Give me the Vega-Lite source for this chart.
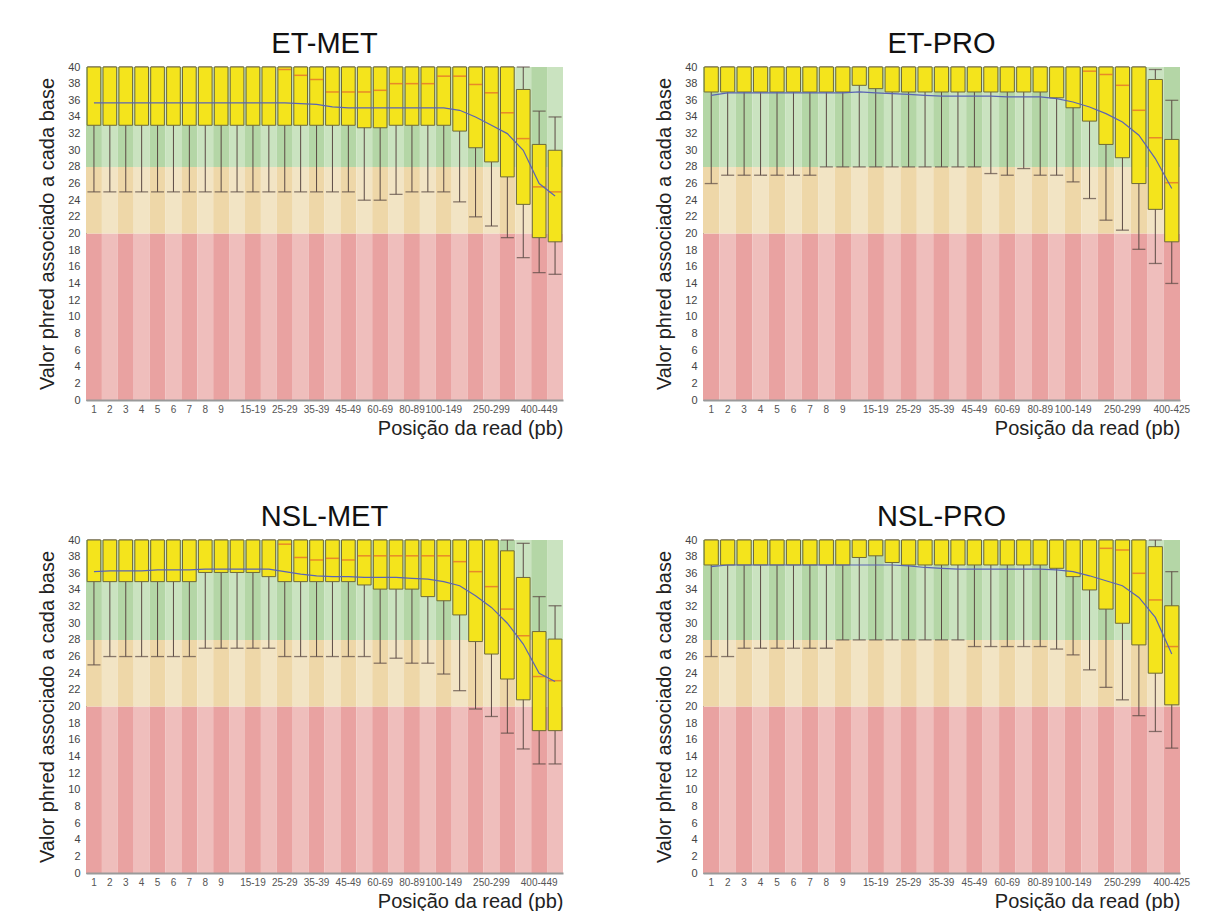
{
  "$schema": "https://vega.github.io/schema/vega-lite/v6.json",
  "padding": {"left": 37, "top": 30, "right": 10, "bottom": 0},
  "background": "white",
  "config": {"font": "Liberation Sans", "view": {"stroke": null}, "axisY": {"labelOverlap": false}},
  "data": {"values": [
    {"panel":"ET-MET","pos":"1","lo":25,"q1":33,"med":40,"q3":40,"hi":40,"mean":35.7},
    {"panel":"ET-MET","pos":"2","lo":25,"q1":33,"med":40,"q3":40,"hi":40,"mean":35.7},
    {"panel":"ET-MET","pos":"3","lo":25,"q1":33,"med":40,"q3":40,"hi":40,"mean":35.7},
    {"panel":"ET-MET","pos":"4","lo":25,"q1":33,"med":40,"q3":40,"hi":40,"mean":35.7},
    {"panel":"ET-MET","pos":"5","lo":25,"q1":33,"med":40,"q3":40,"hi":40,"mean":35.7},
    {"panel":"ET-MET","pos":"6","lo":25,"q1":33,"med":40,"q3":40,"hi":40,"mean":35.7},
    {"panel":"ET-MET","pos":"7","lo":25,"q1":33,"med":40,"q3":40,"hi":40,"mean":35.7},
    {"panel":"ET-MET","pos":"8","lo":25,"q1":33,"med":40,"q3":40,"hi":40,"mean":35.7},
    {"panel":"ET-MET","pos":"9","lo":25,"q1":33,"med":40,"q3":40,"hi":40,"mean":35.7},
    {"panel":"ET-MET","pos":"10-14","lo":25,"q1":33,"med":40,"q3":40,"hi":40,"mean":35.7},
    {"panel":"ET-MET","pos":"15-19","lo":25,"q1":33,"med":40,"q3":40,"hi":40,"mean":35.7},
    {"panel":"ET-MET","pos":"20-24","lo":25,"q1":33,"med":40,"q3":40,"hi":40,"mean":35.7},
    {"panel":"ET-MET","pos":"25-29","lo":25,"q1":33,"med":39.7,"q3":40,"hi":40,"mean":35.7},
    {"panel":"ET-MET","pos":"30-34","lo":25,"q1":33,"med":39,"q3":40,"hi":40,"mean":35.6},
    {"panel":"ET-MET","pos":"35-39","lo":25,"q1":33,"med":38.5,"q3":40,"hi":40,"mean":35.5},
    {"panel":"ET-MET","pos":"40-44","lo":25,"q1":33,"med":37,"q3":40,"hi":40,"mean":35.2},
    {"panel":"ET-MET","pos":"45-49","lo":25,"q1":33,"med":37,"q3":40,"hi":40,"mean":35.1},
    {"panel":"ET-MET","pos":"50-59","lo":24,"q1":32.7,"med":37,"q3":40,"hi":40,"mean":35.1},
    {"panel":"ET-MET","pos":"60-69","lo":24,"q1":32.7,"med":37.2,"q3":40,"hi":40,"mean":35.1},
    {"panel":"ET-MET","pos":"70-79","lo":24.7,"q1":33,"med":38,"q3":40,"hi":40,"mean":35.1},
    {"panel":"ET-MET","pos":"80-89","lo":25,"q1":33,"med":38,"q3":40,"hi":40,"mean":35.1},
    {"panel":"ET-MET","pos":"90-99","lo":25,"q1":33,"med":38,"q3":40,"hi":40,"mean":35.1},
    {"panel":"ET-MET","pos":"100-149","lo":25,"q1":33,"med":38.9,"q3":40,"hi":40,"mean":35.1},
    {"panel":"ET-MET","pos":"150-199","lo":23.8,"q1":32.3,"med":38.9,"q3":40,"hi":40,"mean":34.8},
    {"panel":"ET-MET","pos":"200-249","lo":22,"q1":30.3,"med":37.9,"q3":40,"hi":40,"mean":34},
    {"panel":"ET-MET","pos":"250-299","lo":20.9,"q1":28.6,"med":36.9,"q3":40,"hi":40,"mean":33},
    {"panel":"ET-MET","pos":"300-349","lo":19.5,"q1":26.8,"med":34.5,"q3":40,"hi":40,"mean":32},
    {"panel":"ET-MET","pos":"350-399","lo":17.1,"q1":23.5,"med":31.4,"q3":37.3,"hi":40,"mean":30},
    {"panel":"ET-MET","pos":"400-449","lo":15.3,"q1":19.5,"med":25.6,"q3":30.7,"hi":34.7,"mean":26},
    {"panel":"ET-MET","pos":"450-499","lo":15.1,"q1":19,"med":25,"q3":30,"hi":34,"mean":24.5},

    {"panel":"ET-PRO","pos":"1","lo":26,"q1":37,"med":40,"q3":40,"hi":40,"mean":36.6},
    {"panel":"ET-PRO","pos":"2","lo":27,"q1":37,"med":40,"q3":40,"hi":40,"mean":36.9},
    {"panel":"ET-PRO","pos":"3","lo":27,"q1":37,"med":40,"q3":40,"hi":40,"mean":36.9},
    {"panel":"ET-PRO","pos":"4","lo":27,"q1":37,"med":40,"q3":40,"hi":40,"mean":36.9},
    {"panel":"ET-PRO","pos":"5","lo":27,"q1":37,"med":40,"q3":40,"hi":40,"mean":36.9},
    {"panel":"ET-PRO","pos":"6","lo":27,"q1":37,"med":40,"q3":40,"hi":40,"mean":36.9},
    {"panel":"ET-PRO","pos":"7","lo":27,"q1":37,"med":40,"q3":40,"hi":40,"mean":36.9},
    {"panel":"ET-PRO","pos":"8","lo":28,"q1":37,"med":40,"q3":40,"hi":40,"mean":36.9},
    {"panel":"ET-PRO","pos":"9","lo":28,"q1":37,"med":40,"q3":40,"hi":40,"mean":36.9},
    {"panel":"ET-PRO","pos":"10-14","lo":28,"q1":37.8,"med":40,"q3":40,"hi":40,"mean":37},
    {"panel":"ET-PRO","pos":"15-19","lo":28,"q1":37.4,"med":40,"q3":40,"hi":40,"mean":36.9},
    {"panel":"ET-PRO","pos":"20-24","lo":28,"q1":37,"med":40,"q3":40,"hi":40,"mean":36.8},
    {"panel":"ET-PRO","pos":"25-29","lo":28,"q1":37,"med":40,"q3":40,"hi":40,"mean":36.7},
    {"panel":"ET-PRO","pos":"30-34","lo":28,"q1":37,"med":40,"q3":40,"hi":40,"mean":36.6},
    {"panel":"ET-PRO","pos":"35-39","lo":28,"q1":37,"med":40,"q3":40,"hi":40,"mean":36.5},
    {"panel":"ET-PRO","pos":"40-44","lo":28,"q1":37,"med":40,"q3":40,"hi":40,"mean":36.5},
    {"panel":"ET-PRO","pos":"45-49","lo":28,"q1":37,"med":40,"q3":40,"hi":40,"mean":36.5},
    {"panel":"ET-PRO","pos":"50-59","lo":27.2,"q1":37,"med":40,"q3":40,"hi":40,"mean":36.5},
    {"panel":"ET-PRO","pos":"60-69","lo":27,"q1":37,"med":40,"q3":40,"hi":40,"mean":36.4},
    {"panel":"ET-PRO","pos":"70-79","lo":27.8,"q1":37,"med":40,"q3":40,"hi":40,"mean":36.4},
    {"panel":"ET-PRO","pos":"80-89","lo":27,"q1":37,"med":40,"q3":40,"hi":40,"mean":36.4},
    {"panel":"ET-PRO","pos":"90-99","lo":27,"q1":36.3,"med":40,"q3":40,"hi":40,"mean":36.2},
    {"panel":"ET-PRO","pos":"100-149","lo":26.2,"q1":35.1,"med":40,"q3":40,"hi":40,"mean":35.8},
    {"panel":"ET-PRO","pos":"150-199","lo":24.2,"q1":33.5,"med":39.5,"q3":40,"hi":40,"mean":35.2},
    {"panel":"ET-PRO","pos":"200-249","lo":21.6,"q1":30.7,"med":39.1,"q3":40,"hi":40,"mean":34.4},
    {"panel":"ET-PRO","pos":"250-299","lo":20.4,"q1":29.1,"med":37.8,"q3":40,"hi":40,"mean":33.4},
    {"panel":"ET-PRO","pos":"300-349","lo":18.1,"q1":26,"med":34.8,"q3":40,"hi":40,"mean":31.8},
    {"panel":"ET-PRO","pos":"350-399","lo":16.4,"q1":22.9,"med":31.5,"q3":38.5,"hi":39.7,"mean":29},
    {"panel":"ET-PRO","pos":"400-425","lo":14,"q1":19,"med":26.1,"q3":31.3,"hi":36,"mean":25.4},

    {"panel":"NSL-MET","pos":"1","lo":25,"q1":35,"med":40,"q3":40,"hi":40,"mean":36.2},
    {"panel":"NSL-MET","pos":"2","lo":26,"q1":35,"med":40,"q3":40,"hi":40,"mean":36.3},
    {"panel":"NSL-MET","pos":"3","lo":26,"q1":35,"med":40,"q3":40,"hi":40,"mean":36.3},
    {"panel":"NSL-MET","pos":"4","lo":26,"q1":35,"med":40,"q3":40,"hi":40,"mean":36.3},
    {"panel":"NSL-MET","pos":"5","lo":26,"q1":35,"med":40,"q3":40,"hi":40,"mean":36.4},
    {"panel":"NSL-MET","pos":"6","lo":26,"q1":35,"med":40,"q3":40,"hi":40,"mean":36.4},
    {"panel":"NSL-MET","pos":"7","lo":26,"q1":35,"med":40,"q3":40,"hi":40,"mean":36.4},
    {"panel":"NSL-MET","pos":"8","lo":27,"q1":36.1,"med":40,"q3":40,"hi":40,"mean":36.5},
    {"panel":"NSL-MET","pos":"9","lo":27,"q1":36.1,"med":40,"q3":40,"hi":40,"mean":36.5},
    {"panel":"NSL-MET","pos":"10-14","lo":27,"q1":36.1,"med":40,"q3":40,"hi":40,"mean":36.5},
    {"panel":"NSL-MET","pos":"15-19","lo":27,"q1":36.1,"med":40,"q3":40,"hi":40,"mean":36.5},
    {"panel":"NSL-MET","pos":"20-24","lo":27,"q1":35.6,"med":40,"q3":40,"hi":40,"mean":36.5},
    {"panel":"NSL-MET","pos":"25-29","lo":26,"q1":35,"med":39.5,"q3":40,"hi":40,"mean":36.2},
    {"panel":"NSL-MET","pos":"30-34","lo":26,"q1":35,"med":37.9,"q3":40,"hi":40,"mean":35.9},
    {"panel":"NSL-MET","pos":"35-39","lo":26,"q1":35,"med":37.6,"q3":40,"hi":40,"mean":35.7},
    {"panel":"NSL-MET","pos":"40-44","lo":26,"q1":35,"med":37.8,"q3":40,"hi":40,"mean":35.6},
    {"panel":"NSL-MET","pos":"45-49","lo":26,"q1":35,"med":37.6,"q3":40,"hi":40,"mean":35.6},
    {"panel":"NSL-MET","pos":"50-59","lo":26,"q1":34.6,"med":38.1,"q3":40,"hi":40,"mean":35.5},
    {"panel":"NSL-MET","pos":"60-69","lo":25.2,"q1":34.1,"med":38.1,"q3":40,"hi":40,"mean":35.5},
    {"panel":"NSL-MET","pos":"70-79","lo":25.8,"q1":34.1,"med":38.1,"q3":40,"hi":40,"mean":35.5},
    {"panel":"NSL-MET","pos":"80-89","lo":25.2,"q1":34.1,"med":38.1,"q3":40,"hi":40,"mean":35.4},
    {"panel":"NSL-MET","pos":"90-99","lo":25.2,"q1":33.2,"med":38.1,"q3":40,"hi":40,"mean":35.3},
    {"panel":"NSL-MET","pos":"100-149","lo":23.9,"q1":32.7,"med":38.1,"q3":40,"hi":40,"mean":35},
    {"panel":"NSL-MET","pos":"150-199","lo":21.9,"q1":31,"med":37.4,"q3":40,"hi":40,"mean":34.5},
    {"panel":"NSL-MET","pos":"200-249","lo":19.7,"q1":27.8,"med":36.2,"q3":40,"hi":40,"mean":33.3},
    {"panel":"NSL-MET","pos":"250-299","lo":18.8,"q1":26.3,"med":34.4,"q3":40,"hi":40,"mean":31.9},
    {"panel":"NSL-MET","pos":"300-349","lo":16.8,"q1":23.3,"med":31.7,"q3":38.7,"hi":40,"mean":30},
    {"panel":"NSL-MET","pos":"350-399","lo":14.9,"q1":20.8,"med":28.5,"q3":35.5,"hi":39.6,"mean":27.5},
    {"panel":"NSL-MET","pos":"400-449","lo":13.1,"q1":17.1,"med":23.6,"q3":29,"hi":33.2,"mean":24},
    {"panel":"NSL-MET","pos":"450-499","lo":13.1,"q1":17.1,"med":23.1,"q3":28.1,"hi":32.1,"mean":23},

    {"panel":"NSL-PRO","pos":"1","lo":26,"q1":37,"med":40,"q3":40,"hi":40,"mean":36.8},
    {"panel":"NSL-PRO","pos":"2","lo":26,"q1":37,"med":40,"q3":40,"hi":40,"mean":37},
    {"panel":"NSL-PRO","pos":"3","lo":27,"q1":37,"med":40,"q3":40,"hi":40,"mean":37},
    {"panel":"NSL-PRO","pos":"4","lo":27,"q1":37,"med":40,"q3":40,"hi":40,"mean":37},
    {"panel":"NSL-PRO","pos":"5","lo":27,"q1":37,"med":40,"q3":40,"hi":40,"mean":37},
    {"panel":"NSL-PRO","pos":"6","lo":27,"q1":37,"med":40,"q3":40,"hi":40,"mean":37},
    {"panel":"NSL-PRO","pos":"7","lo":27,"q1":37,"med":40,"q3":40,"hi":40,"mean":37},
    {"panel":"NSL-PRO","pos":"8","lo":27,"q1":37,"med":40,"q3":40,"hi":40,"mean":37},
    {"panel":"NSL-PRO","pos":"9","lo":28,"q1":37,"med":40,"q3":40,"hi":40,"mean":37},
    {"panel":"NSL-PRO","pos":"10-14","lo":28,"q1":37.9,"med":40,"q3":40,"hi":40,"mean":37},
    {"panel":"NSL-PRO","pos":"15-19","lo":28,"q1":38.1,"med":40,"q3":40,"hi":40,"mean":37},
    {"panel":"NSL-PRO","pos":"20-24","lo":28,"q1":37.3,"med":40,"q3":40,"hi":40,"mean":37},
    {"panel":"NSL-PRO","pos":"25-29","lo":28,"q1":37,"med":40,"q3":40,"hi":40,"mean":36.9},
    {"panel":"NSL-PRO","pos":"30-34","lo":28,"q1":37,"med":40,"q3":40,"hi":40,"mean":36.7},
    {"panel":"NSL-PRO","pos":"35-39","lo":28,"q1":37,"med":40,"q3":40,"hi":40,"mean":36.6},
    {"panel":"NSL-PRO","pos":"40-44","lo":28,"q1":37,"med":40,"q3":40,"hi":40,"mean":36.5},
    {"panel":"NSL-PRO","pos":"45-49","lo":27.2,"q1":37,"med":40,"q3":40,"hi":40,"mean":36.5},
    {"panel":"NSL-PRO","pos":"50-59","lo":27.2,"q1":37,"med":40,"q3":40,"hi":40,"mean":36.5},
    {"panel":"NSL-PRO","pos":"60-69","lo":27.2,"q1":37,"med":40,"q3":40,"hi":40,"mean":36.5},
    {"panel":"NSL-PRO","pos":"70-79","lo":27.2,"q1":37,"med":40,"q3":40,"hi":40,"mean":36.5},
    {"panel":"NSL-PRO","pos":"80-89","lo":27.2,"q1":37,"med":40,"q3":40,"hi":40,"mean":36.5},
    {"panel":"NSL-PRO","pos":"90-99","lo":26.9,"q1":36.6,"med":40,"q3":40,"hi":40,"mean":36.4},
    {"panel":"NSL-PRO","pos":"100-149","lo":26.2,"q1":35.6,"med":40,"q3":40,"hi":40,"mean":36.2},
    {"panel":"NSL-PRO","pos":"150-199","lo":24.4,"q1":34,"med":40,"q3":40,"hi":40,"mean":35.7},
    {"panel":"NSL-PRO","pos":"200-249","lo":22.3,"q1":31.7,"med":39,"q3":40,"hi":40,"mean":35.1},
    {"panel":"NSL-PRO","pos":"250-299","lo":20.8,"q1":30,"med":38.8,"q3":40,"hi":40,"mean":34.5},
    {"panel":"NSL-PRO","pos":"300-349","lo":18.9,"q1":27.4,"med":36,"q3":40,"hi":40,"mean":33.1},
    {"panel":"NSL-PRO","pos":"350-399","lo":17,"q1":24,"med":32.8,"q3":39.2,"hi":40,"mean":30.7},
    {"panel":"NSL-PRO","pos":"400-425","lo":15,"q1":20.2,"med":27.2,"q3":32.1,"hi":36.2,"mean":26.3}
  ]},
  "transform": [{"window": [{"op": "row_number", "as": "rn"}], "groupby": ["panel"]}],
  "facet": {
    "field": "panel", "type": "nominal",
    "sort": ["ET-MET", "ET-PRO", "NSL-MET", "NSL-PRO"],
    "header": {"title": null, "labelFontSize": 29, "labelFont": "Liberation Sans", "labelColor": "#111", "labelPadding": 2}
  },
  "columns": 2,
  "spacing": {"row": 65, "column": 91},
  "resolve": {"scale": {"x": "independent"}, "axis": {"x": "independent", "y": "independent"}},
  "spec": {
    "width": 477,
    "height": 333,
    "encoding": {
      "x": {"field": "pos", "type": "ordinal", "sort": null,
        "scale": {"paddingInner": 0, "paddingOuter": 0},
        "axis": {"title": "Posição da read (pb)", "titleAnchor": "end", "titleFontSize": 20, "titleFontWeight": "normal", "titleColor": "#222", "titlePadding": 4,
          "labelAngle": 0, "labelFontSize": 10, "labelColor": "#555", "labelPadding": 4, "ticks": false, "domainColor": "#9a9a9a", "domainWidth": 2,
          "labelExpr": "indexof(['10-14','20-24','30-34','40-44','50-59','70-79','90-99','150-199','200-249','300-349','350-399','450-499'], datum.label) >= 0 ? '' : datum.label"}}
    },
    "layer": [
      {"mark": {"type": "rect"},
       "encoding": {"y": {"datum": 0, "type": "quantitative", "scale": {"domain": [0, 40], "nice": false},
           "axis": {"values": [0,2,4,6,8,10,12,14,16,18,20,22,24,26,28,30,32,34,36,38,40], "tickCount": 30, "labelOverlap": false, "title": "Valor phred associado a cada base", "titleFontSize": 20, "titleFontWeight": "normal", "titleColor": "#222", "titlePadding": 10,
             "labelFontSize": 11, "labelColor": "#444", "labelPadding": 6, "ticks": false, "grid": false, "domainColor": "#555"}},
         "y2": {"datum": 20},
         "fill": {"condition": {"test": "datum.rn % 2 == 1", "value": "#E9A2A1"}, "value": "#EFBEBC"}}},
      {"mark": {"type": "rect"},
       "encoding": {"y": {"datum": 20, "type": "quantitative"}, "y2": {"datum": 28},
         "fill": {"condition": {"test": "datum.rn % 2 == 1", "value": "#EED7A8"}, "value": "#F2E4C4"}}},
      {"mark": {"type": "rect"},
       "encoding": {"y": {"datum": 28, "type": "quantitative"}, "y2": {"datum": 40},
         "fill": {"condition": {"test": "datum.rn % 2 == 1", "value": "#B4D6A6"}, "value": "#CAE3C0"}}},
      {"mark": {"type": "rule", "color": "#5b4a44", "strokeWidth": 1},
       "encoding": {"y": {"field": "lo", "type": "quantitative"}, "y2": {"field": "hi"}}},
      {"mark": {"type": "tick", "color": "#5b4a44", "size": 13, "thickness": 1.3},
       "encoding": {"y": {"field": "lo", "type": "quantitative"}}},
      {"mark": {"type": "tick", "color": "#5b4a44", "size": 13, "thickness": 1.3},
       "encoding": {"y": {"field": "hi", "type": "quantitative"}}},
      {"mark": {"type": "bar", "width": {"band": 0.86}, "fill": "#F4E41C", "stroke": "#6e6a3a", "strokeWidth": 1},
       "encoding": {"y": {"field": "q1", "type": "quantitative"}, "y2": {"field": "q3"}}},
      {"transform": [{"filter": "datum.med < 40"}],
       "mark": {"type": "tick", "color": "#E2622D", "size": 13, "thickness": 1.5},
       "encoding": {"y": {"field": "med", "type": "quantitative"}}},
      {"mark": {"type": "line", "color": "#5a64b4", "strokeWidth": 1.2},
       "encoding": {"y": {"field": "mean", "type": "quantitative"}}}
    ]
  }
}
